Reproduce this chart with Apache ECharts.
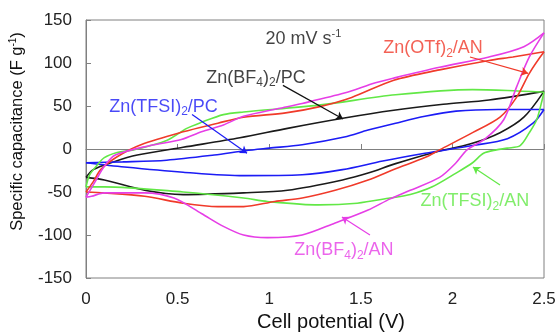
<!DOCTYPE html>
<html><head><meta charset="utf-8">
<script src="https://cdn.jsdelivr.net/npm/echarts@6/dist/echarts.min.js"></script>
<style>html,body{margin:0;padding:0;background:#fff}#c{width:557px;height:335px}</style>
</head><body><div id="c"></div>
<script>
// ---- data (cell potential V, specific capacitance F/g) ----
// Zn(BF4)2/PC (black)
var bf4pcFwdV = [0, 0.04, 0.15, 0.28, 0.53, 0.84, 1.1, 1.41, 1.68, 1.95, 2.2, 2.5];
var bf4pcFwdC = [-33, -24, -15, -7, 2, 13, 24, 36, 45, 52, 57, 67];
var bf4pcRevV = [0, 0.1, 0.32, 0.53, 0.86, 1.1, 1.4, 1.54, 1.69, 1.9, 2.1, 2.26, 2.39, 2.5];
var bf4pcRevC = [-33, -36, -48, -53, -51, -48, -36, -28, -17, -4, 6, 19, 37, 67];
// Zn(TFSI)2/PC (blue)
var tfsipcFwdV = [0, 0.2, 0.44, 0.7, 0.87, 1.0, 1.18, 1.41, 1.54, 1.69, 1.85, 2.02, 2.25, 2.5];
var tfsipcFwdC = [-16, -15, -13, -7, -2, 1, 5, 14, 22, 30, 38, 44, 46, 46];
var tfsipcRevV = [0, 0.21, 0.53, 0.86, 1.18, 1.4, 1.62, 1.85, 2.11, 2.3, 2.44, 2.5];
var tfsipcRevC = [-16, -21, -27, -31, -30, -24, -14, -5, 4, 12, 30, 46];
// Zn(OTf)2/AN (red)
var otfanFwdV = [0, 0.04, 0.08, 0.17, 0.3, 0.53, 0.72, 0.86, 1.09, 1.27, 1.45, 1.68, 1.93, 2.2, 2.33, 2.5];
var otfanFwdC = [-50, -38, -24, -9, 5, 20, 30, 37, 42, 49, 60, 80, 92, 103, 107, 113];
var otfanRevV = [0, 0.1, 0.32, 0.53, 0.72, 0.86, 1.03, 1.18, 1.36, 1.54, 1.69, 1.85, 1.93, 2.11, 2.26, 2.35, 2.42, 2.5];
var otfanRevC = [-50, -51, -55, -63, -67, -67, -61, -57, -48, -36, -23, -10, -1, 19, 37, 60, 88, 113];
// Zn(BF4)2/AN (magenta)
var bf4anFwdV = [0, 0.05, 0.1, 0.16, 0.35, 0.52, 0.63, 0.75, 0.86, 1.05, 1.18, 1.41, 1.58, 1.69, 1.93, 2.2, 2.39, 2.5];
var bf4anFwdC = [-56, -38, -20, -7, 4, 11, 20, 28, 38, 47, 53, 65, 77, 83, 95, 107, 119, 135];
var bf4anRevV = [0, 0.03, 0.1, 0.32, 0.48, 0.63, 0.75, 0.86, 0.99, 1.18, 1.36, 1.54, 1.66, 1.77, 1.93, 2.02, 2.08, 2.18, 2.28, 2.35, 2.42, 2.5];
var bf4anRevC = [-56, -55, -51, -51, -57, -75, -90, -100, -103, -100, -86, -71, -58, -48, -33, -16, -1, 12, 34, 72, 107, 135];
// Zn(TFSI)2/AN (green)
var tfsianFwdV = [0, 0.02, 0.06, 0.1, 0.17, 0.26, 0.44, 0.55, 0.63, 0.75, 0.86, 1.27, 1.69, 2.11, 2.3, 2.5];
var tfsianFwdC = [-44, -30, -19, -10, -4, -1, 10, 24, 31, 40, 43, 51, 63, 69, 68, 66];
var tfsianRevV = [0, 0.1, 0.53, 0.86, 0.99, 1.27, 1.48, 1.66, 1.77, 1.89, 2.02, 2.11, 2.17, 2.24, 2.3, 2.37, 2.42, 2.46, 2.49, 2.5];
var tfsianRevC = [-44, -44, -50, -57, -61, -65, -63, -57, -53, -44, -28, -16, -5, -1, 1, 4, 19, 34, 57, 66];

// axis ticks
var xTicks = [0, 0.5, 1, 1.5, 2, 2.5];
var yTicks = [-150, -100, -50, 0, 50, 100, 150];

// annotations: label text, position [V, C], arrow from/to
var annLabels = ['{n|20 mV s}{sup|-1}', '{n|Zn(OTf)}{sub|2}{n|/AN}', '{n|Zn(BF}{sub|4}{n|)}{sub|2}{n|/PC}', '{n|Zn(TFSI)}{sub|2}{n|/PC}', '{n|Zn(TFSI)}{sub|2}{n|/AN}', '{n|Zn(BF}{sub|4}{n|)}{sub|2}{n|/AN}'];
var annPos = [[1.187, 128], [1.894, 117], [0.928, 83], [0.423, 49], [2.123, -61], [1.408, -118]];
var annColors = ['#111111', '#f03a2a', '#111111', '#1c1cf5', '#62e846', '#e63ee6'];
var arrowFrom = [[2.096, 107], [1.075, 74], [0.579, 40], [2.26, -42], [1.55, -100]];
var arrowTo = [[2.413, 88], [1.403, 35], [0.879, -5], [2.112, -21], [1.397, -79]];
var arrowColors = ['#f03a2a', '#111111', '#1c1cf5', '#62e846', '#e63ee6'];

var FONT = 'Liberation Sans, Arial, sans-serif';
function pairs(v, c) { return v.map(function (x, i) { return [x, c[i]]; }); }
var curves = [
  ['Zn(BF4)2/PC', '#1a1a1a', bf4pcFwdV, bf4pcFwdC, bf4pcRevV, bf4pcRevC],
  ['Zn(TFSI)2/PC', '#1c1cf5', tfsipcFwdV, tfsipcFwdC, tfsipcRevV, tfsipcRevC],
  ['Zn(TFSI)2/AN', '#62e846', tfsianFwdV, tfsianFwdC, tfsianRevV, tfsianRevC],
  ['Zn(OTf)2/AN', '#f03a2a', otfanFwdV, otfanFwdC, otfanRevV, otfanRevC],
  ['Zn(BF4)2/AN', '#e63ee6', bf4anFwdV, bf4anFwdC, bf4anRevV, bf4anRevC]
];
var series = [];
curves.forEach(function (cv) {
  [[cv[2], cv[3]], [cv[4], cv[5]]].forEach(function (br) {
    series.push({
      type: 'line', name: cv[0], data: pairs(br[0], br[1]), showSymbol: false,
      smooth: 0.3, lineStyle: { color: cv[1], width: 1.6 }, z: 3, silent: true
    });
  });
});
function richFor(col) {
  return {
    n: { fontSize: 18, fontFamily: FONT, color: col },
    sub: { fontSize: 12, fontFamily: FONT, color: col, padding: [10, 0, 0, 0] },
    sup: { fontSize: 11, fontFamily: FONT, color: col, padding: [0, 0, 10, 0] }
  };
}
series.push({
  type: 'scatter', symbolSize: 0, silent: true, z: 5,
  data: annPos.map(function (p, i) {
    return { value: p, label: { show: true, position: 'inside', formatter: annLabels[i], color: annColors[i], rich: richFor(annColors[i]) } };
  }),
  markLine: {
    silent: true, symbol: ['none', 'arrow'], symbolSize: 7, animation: false,
    label: { show: false },
    data: arrowFrom.map(function (f, i) {
      return [{ coord: f, lineStyle: { color: arrowColors[i], width: 1.2, type: 'solid' } }, { coord: arrowTo[i] }];
    })
  }
});

var chart = echarts.init(document.getElementById('c'), null, { renderer: 'canvas' });
chart.setOption({
  animation: false,
  backgroundColor: '#fff',
  grid: { left: 86, right: 13, top: 20, bottom: 57, show: true, borderColor: '#808080', borderWidth: 1, containLabel: false, outerBoundsMode: 'none' },
  xAxis: {
    type: 'value', min: xTicks[0], max: xTicks[xTicks.length - 1], interval: 0.5,
    name: 'Cell potential (V)', nameLocation: 'middle', nameGap: 34,
    nameTextStyle: { fontSize: 20, fontFamily: FONT, color: '#111', padding: [0, 0, 0, 32] },
    axisLine: { lineStyle: { color: '#808080' } },
    axisTick: { inside: true, length: 5, lineStyle: { color: '#808080' } },
    axisLabel: { fontSize: 17, fontFamily: FONT, color: '#222', margin: 13,
      formatter: function (v) { return xTicks.indexOf(v) >= 0 ? String(v) : ''; } },
    splitLine: { show: false }
  },
  yAxis: {
    type: 'value', min: yTicks[0], max: yTicks[yTicks.length - 1], interval: 50,
    name: '{a|Specific capacitance (F g}{s|-1}{a|)}', nameLocation: 'middle', nameGap: 59, nameRotate: 90,
    nameTextStyle: { padding: [0, 0, 0, 35], rich: { a: { fontSize: 16.5, fontFamily: FONT, color: '#111' }, s: { fontSize: 10, fontFamily: FONT, color: '#111', padding: [0, 0, 9, 0] } } },
    axisLine: { lineStyle: { color: '#808080' } },
    axisTick: { inside: true, length: 5, lineStyle: { color: '#808080' } },
    axisLabel: { fontSize: 17, fontFamily: FONT, color: '#222', margin: 14 },
    splitLine: { show: false }
  },
  series: series
});
</script></body></html>
